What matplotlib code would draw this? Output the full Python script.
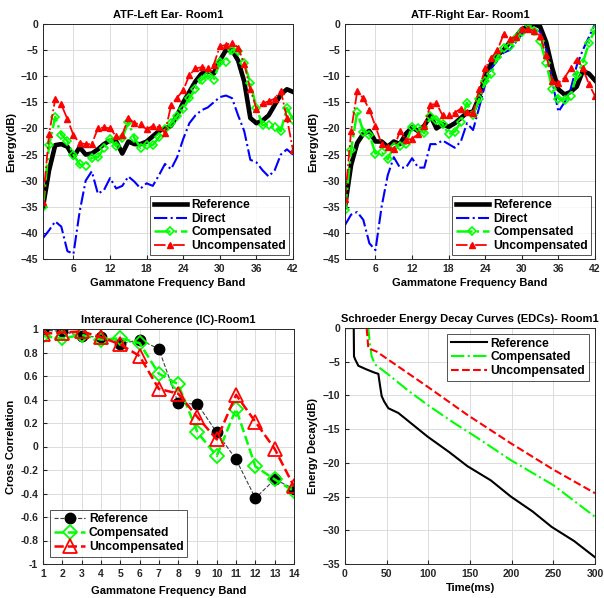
import numpy as np
import matplotlib
matplotlib.use("Agg")
import matplotlib.pyplot as plt

plt.rcParams['font.family'] = ['Liberation Sans', 'DejaVu Sans']
plt.rcParams['font.weight'] = 'bold'
plt.rcParams['axes.labelweight'] = 'bold'
plt.rcParams['axes.titleweight'] = 'bold'

bands = list(range(1, 43))

# ATF left ear
left_ref = [-35, -28, -23.2, -23, -23.5, -25.5, -23.6, -25, -24.8, -24, -23, -22.3, -22.5, -24.8,
            -22.5, -23, -23, -22.5, -21.5, -20.5, -20, -19.5, -17.5, -15, -13, -11, -9.5, -9, -9.5,
            -7, -5, -5, -7, -11, -18, -19, -18.5, -17.5, -15.5, -13.5, -12.5, -13]
left_direct = [-41, -39.5, -37.8, -38.8, -43.5, -44, -36, -30, -28.2, -32.5, -31.8, -29.5, -31.5, -31,
               -29.2, -30.2, -31.5, -30.5, -31, -29, -26.8, -27.8, -25.5, -22, -19, -17.5, -16.5, -16,
               -15, -14, -13.7, -14.2, -17.5, -20.5, -26, -26.5, -28, -29.2, -28, -25, -24, -25]
left_comp = [-35, -23.2, -17.8, -21.2, -22.4, -25, -26.9, -27.1, -25.6, -25.5, -23.8, -22, -23.4, -21.8,
             -18.8, -21.9, -23.7, -23.1, -23.2, -21.7, -20.2, -19, -17.6, -16.3, -14.2, -12.5, -10.7,
             -9.8, -10.7, -7.2, -7.2, -4.9, -5.2, -7.5, -11.3, -16, -19.4, -19.3, -19.8, -20.5, -16.1, -18.3]
left_unc = [-34, -21, -14.4, -15.4, -18.2, -21.3, -22.8, -23, -23, -20, -19.8, -20, -21.5, -21.2,
            -18, -19, -19.2, -20.2, -19.5, -19.8, -20.8, -15.6, -14.1, -12.7, -9.8, -8.5, -8.3, -8.4,
            -7.8, -4.3, -4, -3.6, -4.5, -7.6, -12.5, -16.2, -15.2, -14.8, -14.3, -12.8, -18, -24.2]

# ATF right ear
right_ref = [-35, -27, -22.8, -21, -20.5, -22.5, -22.5, -23.5, -22.5, -23, -21, -19.8, -20.5, -19.5,
             -17.5, -20, -19.2, -19.7, -19, -18, -17, -16.8, -14, -10, -7.5, -6, -5, -3.5, -2.5,
             -1, -0.5, 0, -0.5, -3.5, -8.5, -12.5, -13.5, -13, -12, -9, -9.5, -10.8]
right_direct = [-38.5, -36.5, -36, -37.5, -42, -43.3, -35, -29, -25.5, -27.5, -27.5, -25.7, -27.5, -27.5,
                -23, -23, -22.3, -23, -23.7, -22.5, -19, -20.3, -16, -11.5, -8.5, -7, -5.5, -5, -3.5,
                -2, -1, -1, -1.5, -5, -11, -16.8, -15, -12.5, -8, -5, -2.5, 0]
right_comp = [-35.6, -24.1, -16.8, -20.6, -21.2, -24.8, -24.6, -25.9, -23.5, -23.3, -22.9, -19.7, -19.9,
              -20.9, -17.7, -18.3, -19.1, -21.1, -20.6, -18.8, -15.1, -17.4, -14.4, -11, -9.5, -6.3,
              -4.5, -4.3, -2.6, -1.5, 0, -1.3, -3.2, -7.5, -12.4, -14.3, -14.5, -13.8, -9.7, -7.5, -3.6, -1.1]
right_unc = [-33.6, -20.5, -12.9, -14.2, -16.4, -19.6, -23, -23.5, -24, -20.5, -22.2, -22, -21, -19.5,
             -15.5, -15.2, -17.5, -17.5, -17, -16.2, -16.8, -17, -12.5, -8.5, -6.5, -5, -2, -2.8, -2.5,
             -1, -1, -1.3, -2.3, -6, -11, -11.3, -10.3, -8.5, -6.8, -8.5, -11.5, -13.8]

# Interaural coherence
ic_bands = list(range(1, 15))
ic_ref = [0.99, 0.98, 0.94, 0.93, 0.87, 0.91, 0.83, 0.37, 0.36, 0.12, -0.11, -0.44, -0.28, -0.36]
ic_comp = [0.94, 0.92, 0.95, 0.91, 0.92, 0.88, 0.62, 0.53, 0.12, -0.08, 0.32, -0.17, -0.28, -0.38]
ic_unc = [0.96, 0.97, 0.98, 0.93, 0.87, 0.77, 0.49, 0.45, 0.25, 0.06, 0.44, 0.21, -0.02, -0.34]

# Schroeder EDCs
t_ref = [0, 10.5, 10.8, 12, 16, 25, 35, 40, 42, 44, 47, 52, 64, 80, 99, 125, 147, 175, 199, 225, 248, 275, 300]
edc_ref = [0, 0, -4.2, -4.6, -5.6, -6.1, -6.6, -6.8, -8.5, -10.1, -10.9, -11.9, -12.6, -14.2, -16.1,
           -18.4, -20.5, -22.6, -25, -27.2, -29.5, -31.6, -34]
t_comp = [0, 28, 30, 32, 36, 52, 75, 99, 131, 159, 199, 250, 300]
edc_comp = [0, 0, -2.5, -4.2, -5.4, -6.9, -9.2, -11.4, -14.1, -16.3, -19.6, -23.3, -28]
t_unc = [0, 26, 28, 38, 52, 99, 147, 199, 250, 300]
edc_unc = [0, 0, -3, -3.5, -4.7, -8.7, -12.9, -17.1, -21, -24.5]

fig = plt.figure(figsize=(6.04, 5.98), dpi=100)
ax1 = fig.add_axes([43/604, 1-259/598, 250/604, 235/598])
ax2 = fig.add_axes([345/604, 1-259/598, 250/604, 235/598])
ax3 = fig.add_axes([43/604, 1-564/598, 251/604, 235/598])
ax4 = fig.add_axes([345/604, 1-564/598, 250/604, 236/598])

FS = 8
LFS = 8.7


def style(ax):
    ax.grid(True, color='#dcdcdc', linewidth=0.7)
    ax.set_axisbelow(True)
    for s in ax.spines.values():
        s.set_color('#262626')
        s.set_linewidth(0.7)
    ax.tick_params(labelsize=7.5, length=3, direction='in', colors='#262626')


def atf(ax, title, ref, direct, comp, unc):
    ax.plot(bands, ref, color='black', lw=3.3, label='Reference')
    ax.plot(bands, direct, color='blue', lw=1.5, ls='-.', label='Direct')
    ax.plot(bands, comp, color=(0, 1, 0), lw=1.8, ls='-.', marker='D', ms=4.5,
            mfc='none', mec=(0, 1, 0), mew=1.2, label='Compensated')
    ax.plot(bands, unc, color='red', lw=1.3, ls='-.', marker='^', ms=5,
            mfc='red', mec='red', label='Uncompensated')
    ax.set_xlim(1, 42)
    ax.set_ylim(-45, 0)
    ax.set_xticks(range(6, 43, 6))
    ax.set_yticks(range(-45, 1, 5))
    ax.set_title(title, fontsize=FS, pad=4)
    ax.set_xlabel('Gammatone Frequency Band', fontsize=FS, labelpad=3)
    ax.set_ylabel('Energy(dB)', fontsize=FS, labelpad=3)
    style(ax)
    leg = ax.legend(loc='lower right', fontsize=LFS, handlelength=2.8, borderpad=0.3,
                    labelspacing=0.12, handletextpad=0.3, fancybox=False,
                    edgecolor='#262626', borderaxespad=0.3)
    leg.get_frame().set_linewidth(0.7)


atf(ax1, 'ATF-Left Ear- Room1', left_ref, left_direct, left_comp, left_unc)
atf(ax2, 'ATF-Right Ear- Room1', right_ref, right_direct, right_comp, right_unc)

ax3.plot(ic_bands, ic_ref, color='#404040', lw=0.8, ls='--', marker='o', ms=7.5,
         mfc='black', mec='black', label='Reference')
ax3.plot(ic_bands, ic_comp, color=(0, 1, 0), lw=1.8, ls='--', marker='D', ms=7,
         mfc='none', mec=(0, 1, 0), mew=1.3, label='Compensated')
ax3.plot(ic_bands, ic_unc, color='red', lw=1.8, ls='--', marker='^', ms=9.5,
         mfc='none', mec='red', mew=1.3, label='Uncompensated')
ax3.set_xlim(1, 14)
ax3.set_ylim(-1, 1)
ax3.set_xticks(ic_bands)
ax3.set_yticks(np.arange(-1, 1.01, 0.2))
ax3.set_yticklabels(['-1', '-0.8', '-0.6', '-0.4', '-0.2', '0', '0.2', '0.4', '0.6', '0.8', '1'])
ax3.set_title('Interaural Coherence (IC)-Room1', fontsize=FS, pad=4)
ax3.set_xlabel('Gammatone Frequency Band', fontsize=FS, labelpad=5)
ax3.set_ylabel('Cross Correlation', fontsize=FS, labelpad=3)
style(ax3)
leg = ax3.legend(loc='lower left', fontsize=LFS, handlelength=2.6, borderpad=0.3,
                 labelspacing=0.15, handletextpad=0.3, fancybox=False,
                 edgecolor='#262626', borderaxespad=0.6)
leg.get_frame().set_linewidth(0.7)

ax4.plot(t_ref, edc_ref, color='black', lw=1.5, label='Reference')
ax4.plot(t_comp, edc_comp, color=(0, 1, 0), lw=1.5, ls='-.', label='Compensated')
ax4.plot(t_unc, edc_unc, color='red', lw=1.5, ls='--', label='Uncompensated')
ax4.set_xlim(0, 300)
ax4.set_ylim(-35, 0)
ax4.set_xticks(range(0, 301, 50))
ax4.set_yticks(range(-35, 1, 5))
ax4.set_title('Schroeder Energy Decay Curves (EDCs)- Room1', fontsize=FS, pad=4)
ax4.set_xlabel('Time(ms)', fontsize=FS, labelpad=3)
ax4.set_ylabel('Energy Decay(dB)', fontsize=FS, labelpad=3)
style(ax4)
leg = ax4.legend(loc='upper right', fontsize=LFS, handlelength=3.0, borderpad=0.3,
                 labelspacing=0.15, handletextpad=0.3, fancybox=False,
                 edgecolor='#262626', borderaxespad=0.5)
leg.get_frame().set_linewidth(0.7)

fig.savefig('out.png', dpi=100)
